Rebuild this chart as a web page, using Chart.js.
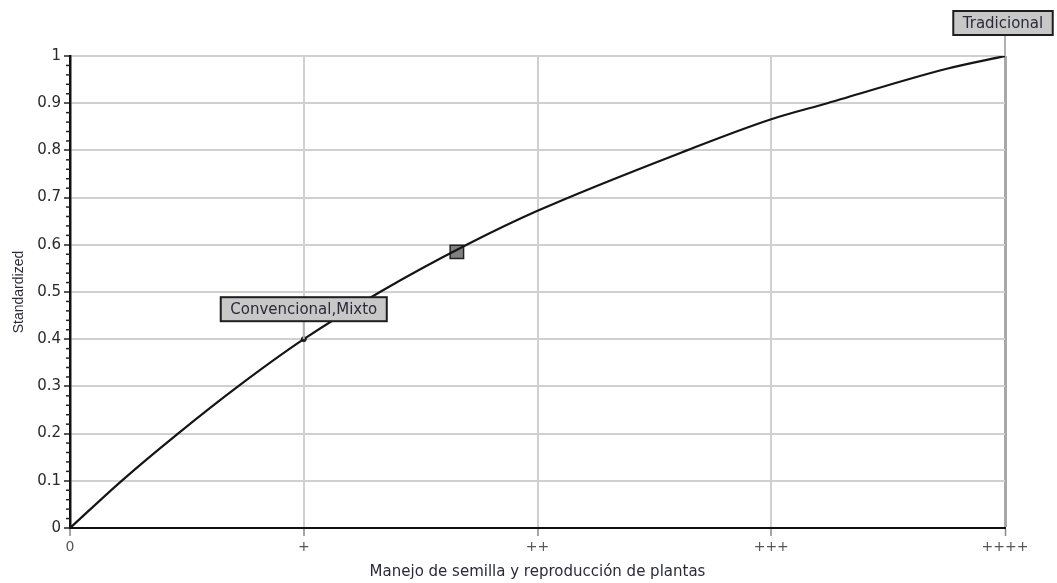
<!DOCTYPE html>
<html>
<head>
<meta charset="utf-8">
<script src="https://cdn.jsdelivr.net/npm/chart.js@4.4.0/dist/chart.umd.min.js"></script>
<style>
  html, body { margin: 0; padding: 0; background: #fff; }
  #marco { width: 1057px; height: 583px; }
</style>
</head>
<body>
<div id="marco"><canvas id="curva"></canvas></div>
<script>
// niveles del eje x y etiquetas
const etiquetasX = ['0', '+', '++', '+++', '++++'];
const etiquetasY = ['0', '0.1', '0.2', '0.3', '0.4', '0.5', '0.6', '0.7', '0.8', '0.9', '1'];

// curva de utilidad
const curvaX = [0, 0.221, 0.462, 0.719, 1.0, 1.326, 1.697, 2.0, 2.639, 3.0, 3.24, 3.751, 4.0];
const curvaY = [0, 0.1, 0.2, 0.3, 0.4, 0.5, 0.6, 0.672, 0.8, 0.866, 0.9, 0.973, 1.0];

// alternativas con nombre
const nombres = ['Convencional,Mixto', 'Tradicional'];
const nombresX = [1, 4];
const nombresY = [0.4, 1];

// marcador cuadrado
const marcaX = [1.655];
const marcaY = [0.585];

const fuente = '"DejaVu Sans", sans-serif';

// cajas de las etiquetas (desplazamiento respecto al punto)
const desplazamiento = [[0, -30], [-2, -33]];

const etiquetasPlugin = {
  id: 'etiquetas',
  afterDatasetsDraw(chart) {
    const ctx = chart.ctx;
    const x = chart.scales.x, y = chart.scales.y;
    ctx.save();
    ctx.font = '15px ' + fuente;
    nombres.forEach((n, i) => {
      const px = x.getPixelForValue(nombresX[i]);
      const py = y.getPixelForValue(nombresY[i]);
      const cx = px + desplazamiento[i][0];
      const cy = py + desplazamiento[i][1];
      const w = ctx.measureText(n).width + 19;
      const h = 24;
      // linea guia
      ctx.strokeStyle = '#b0b0b0';
      ctx.lineWidth = 2;
      ctx.beginPath();
      ctx.moveTo(px, cy + h / 2);
      ctx.lineTo(px, py);
      ctx.stroke();
      ctx.fillStyle = '#c8c8c8';
      ctx.fillRect(cx - w / 2, cy - h / 2, w, h);
      ctx.strokeStyle = '#1e1e1e';
      ctx.lineWidth = 2;
      ctx.strokeRect(cx - w / 2, cy - h / 2, w, h);
      ctx.fillStyle = '#2a2a3a';
      ctx.textAlign = 'center';
      ctx.textBaseline = 'middle';
      ctx.fillText(n, cx, cy + 1);
    });
    ctx.restore();
  }
};

// marcas menores del eje y
const menoresPlugin = {
  id: 'menores',
  afterDraw(chart) {
    const ctx = chart.ctx;
    const y = chart.scales.y;
    const x0 = chart.chartArea.left;
    ctx.save();
    ctx.strokeStyle = '#222';
    ctx.lineWidth = 1.5;
    for (let k = 0; k <= 50; k++) {
      if (k % 5 === 0) continue;
      const py = y.getPixelForValue(k / 50);
      ctx.beginPath();
      ctx.moveTo(x0 - 4, py);
      ctx.lineTo(x0, py);
      ctx.stroke();
    }
    ctx.restore();
  }
};

new Chart(document.getElementById('curva'), {
  type: 'scatter',
  data: {
    datasets: [{
      data: curvaX.map((v, i) => ({ x: v, y: curvaY[i] })),
      showLine: true,
      borderColor: '#151515',
      borderWidth: 2.2,
      pointRadius: 0,
      cubicInterpolationMode: 'monotone'
    },
    {
      data: [{ x: nombresX[0], y: nombresY[0] }],
      pointRadius: 2.5,
      backgroundColor: '#222',
      borderColor: '#222',
      borderWidth: 1
    },
    {
      data: marcaX.map((v, i) => ({ x: v, y: marcaY[i] })),
      pointStyle: 'rect',
      pointRadius: 9.5,
      backgroundColor: '#808080',
      borderColor: '#222',
      borderWidth: 1.5
    }]
  },
  options: {
    responsive: true,
    maintainAspectRatio: false,
    animation: false,
    layout: { padding: { top: 56, right: 52, left: 0, bottom: 0 } },
    plugins: {
      legend: { display: false },
      tooltip: { enabled: false }
    },
    scales: {
      x: {
        type: 'linear',
        min: 0,
        max: 4,
        afterFit: (s) => { s.height = 55; },
        ticks: {
          stepSize: 1,
          padding: 3,
          color: '#555',
          font: { family: fuente, size: 14 },
          callback: (v, i) => etiquetasX[i]
        },
        grid: {
          color: (c) => c.tick && c.tick.value === 4 ? '#a8a8a8' : '#d0d0d0',
          lineWidth: (c) => c.tick && c.tick.value === 4 ? 3 : 2,
          tickLength: 8,
          tickColor: '#888',
          tickWidth: 1.5
        },
        border: { display: true, color: '#111', width: 2 },
        title: {
          display: true,
          text: 'Manejo de semilla y reproducción de plantas',
          color: '#2a2a3a',
          font: { family: fuente, size: 15 },
          padding: { top: 0, bottom: 1.5 }
        }
      },
      y: {
        min: 0,
        max: 1,
        afterFit: (s) => { s.width = 70; },
        ticks: {
          stepSize: 0.1,
          padding: 3,
          color: '#2a2a2a',
          font: { family: fuente, size: 15 },
          callback: (v, i) => etiquetasY[i]
        },
        grid: {
          color: '#d0d0d0',
          lineWidth: 2,
          tickLength: 6,
          tickColor: '#222',
          tickWidth: 1.5
        },
        border: { display: true, color: '#111', width: 2.5 },
        title: {
          display: true,
          text: 'Standardized',
          color: '#2a2a3a',
          font: { family: '"Liberation Sans", Arial, sans-serif', size: 14 },
          padding: { top: 11, bottom: 0 }
        }
      }
    }
  },
  plugins: [etiquetasPlugin, menoresPlugin]
});
</script>
</body>
</html>
